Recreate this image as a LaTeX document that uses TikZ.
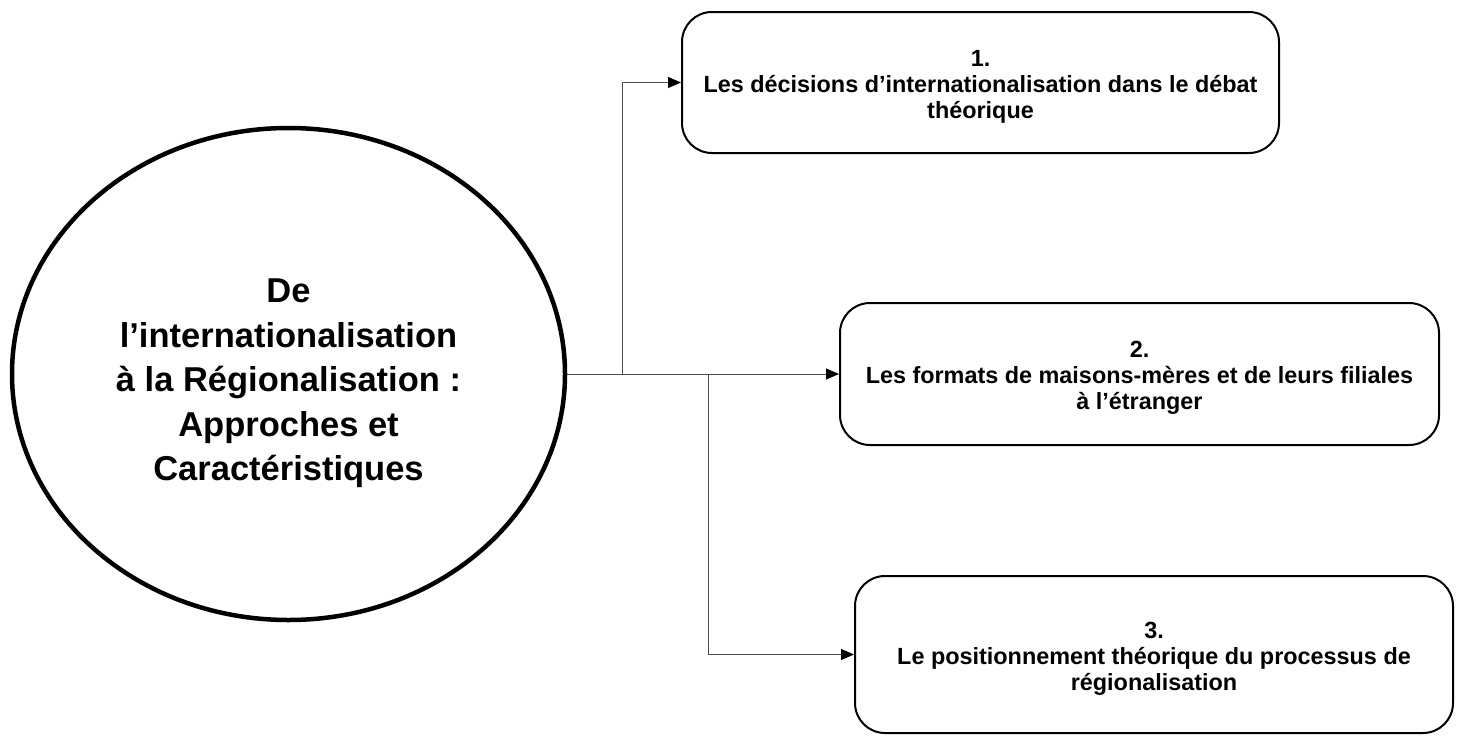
\documentclass[tikz,border=0pt]{standalone}
\usepackage{fontspec}
\setmainfont{Liberation Sans}
\usetikzlibrary{positioning,shapes.geometric,arrows.meta}

% centred lines, lowered a little inside their shape
\newcommand{\stack}[2]{\raisebox{#1}[\height][\depth]{\begin{tabular}{@{}c@{}}#2\end{tabular}}}

\tikzset{
  theme/.style={ellipse, draw, line width=4.5pt, minimum width=553pt, minimum height=492pt,
    inner sep=0pt, align=center, font=\bfseries\fontsize{34.5}{44.5}\selectfont},
  part/.style={rectangle, rounded corners=30pt, draw, line width=2pt, align=center,
    font=\bfseries\fontsize{23.4}{26}\selectfont},
  link/.style={draw=black!70, line width=1pt, -{Triangle[length=13pt,width=11pt,color=black]}}
}

\begin{document}
\begin{tikzpicture}[x=1pt, y=-1pt]
\useasboundingbox (0,0) rectangle (1461,736);

\node[theme] (theme) at (288.5,374) {\stack{-9pt}{De\\l’internationalisation\\à la Régionalisation :\\Approches et\\Caractéristiques}};

\node[part, minimum width=597pt, minimum height=141pt] (part1) at (980.5,82.5)
  {\stack{-5pt}{1.\\Les décisions d’internationalisation dans le débat\\théorique}};
\node[part, minimum width=599pt, minimum height=142pt] (part2) at (1139.5,374)
  {\stack{-4pt}{2.\\Les formats de maisons-mères et de leurs filiales\\à l’étranger}};
\node[part, minimum width=598pt, minimum height=157pt] (part3) at (1154,654.5)
  {\stack{-5pt}{3.\\Le positionnement théorique du processus de\\régionalisation}};

\coordinate (j1) at (622,374);
\coordinate (j2) at (708,374);

\draw[link] (theme.east) -- (j1) |- (part1.west);
\draw[link] (theme.east) -- (part2.west);
\draw[link] (j2) |- (part3.west);
\end{tikzpicture}
\end{document}
